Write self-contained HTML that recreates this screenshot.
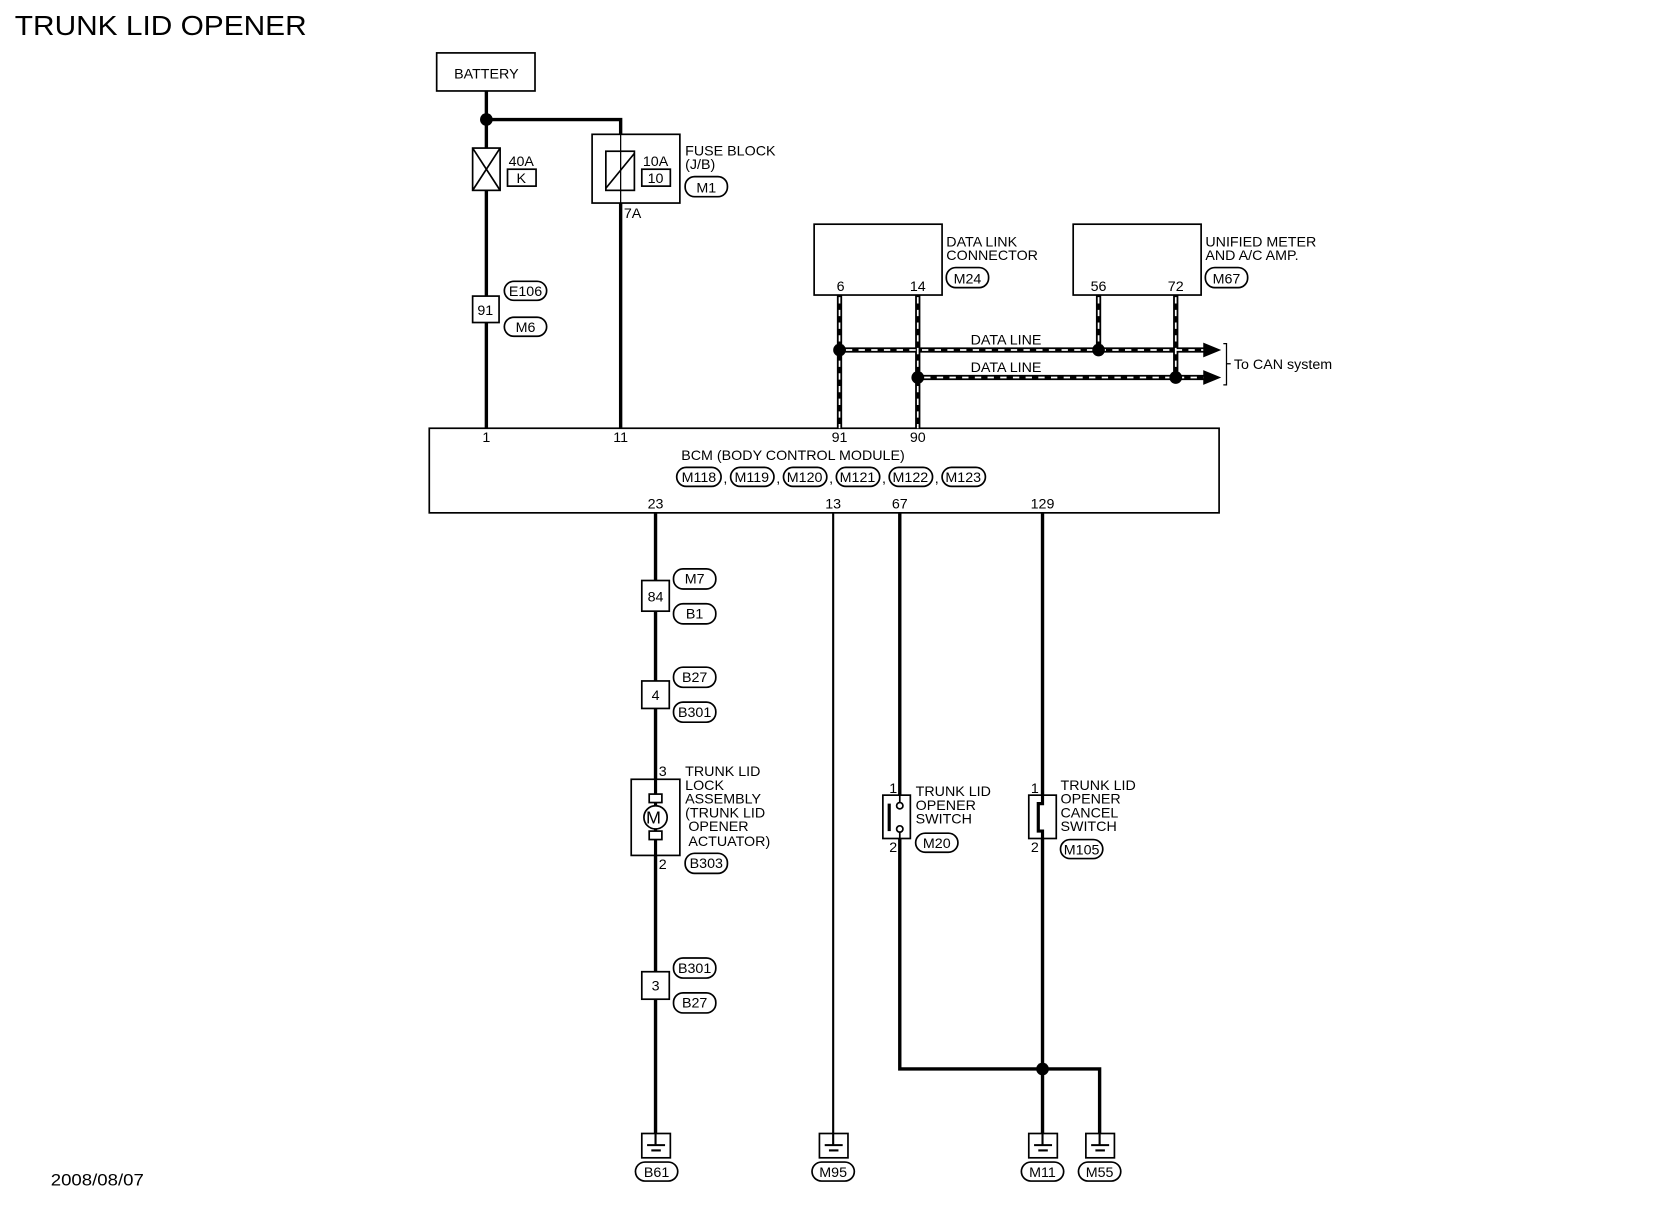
<!DOCTYPE html>
<html><head><meta charset="utf-8"><style>
html,body{margin:0;padding:0;background:#fff;}
svg{display:block;}
text{font-family:"Liberation Sans",sans-serif;font-size:13.5px;fill:#000;}
</style></head><body>
<svg width="1660" height="1216" viewBox="0 0 1570 1150" xmlns="http://www.w3.org/2000/svg">
<rect x="0" y="0" width="1570" height="1150" fill="#fff"/>
<text x="14" y="33" style="font-size:26px" textLength="276" lengthAdjust="spacingAndGlyphs">TRUNK LID OPENER</text>
<text x="48" y="1121" style="font-size:16px" textLength="88" lengthAdjust="spacingAndGlyphs">2008/08/07</text>

<g stroke="#000" fill="none" stroke-width="1.6">
<rect x="413" y="50" width="93" height="36"/>
<rect x="447" y="140" width="26" height="40"/>
<line x1="447" y1="140" x2="473" y2="180"/><line x1="473" y1="140" x2="447" y2="180"/>
<rect x="480" y="160" width="27" height="16"/>
<rect x="560" y="127" width="83" height="65"/>
<rect x="573" y="143" width="27" height="37"/>
<line x1="573" y1="178" x2="600" y2="145"/>
<rect x="607" y="160" width="27" height="16"/>
<rect x="447" y="280" width="25" height="25" fill="#fff"/>
<rect x="770" y="212" width="121" height="67"/>
<rect x="1015" y="212" width="121" height="67"/>
<rect x="406" y="405" width="747" height="80"/>
</g>

<g stroke="#000" stroke-width="3.2" fill="none">
<line x1="460" y1="86" x2="460" y2="140"/>
<line x1="460" y1="180" x2="460" y2="280"/>
<line x1="460" y1="305" x2="460" y2="405"/>
<polyline points="460,113 587,113 587,127"/>
<line x1="587" y1="192" x2="587" y2="405"/>
</g>
<line x1="587" y1="127" x2="587" y2="192" stroke="#000" stroke-width="1.2"/>
<circle cx="460" cy="113" r="6"/>

<g fill="none">
<g stroke="#000" stroke-width="5">
<line x1="794" y1="279" x2="794" y2="405"/>
<line x1="868" y1="279" x2="868" y2="405"/>
<line x1="1039" y1="279" x2="1039" y2="331"/>
<line x1="1112" y1="279" x2="1112" y2="357"/>
<line x1="794" y1="331" x2="1140" y2="331"/>
<line x1="868" y1="357" x2="1140" y2="357"/>
</g>
<g stroke="#fff" stroke-width="1.6" stroke-dasharray="6 6">
<line x1="794" y1="281" x2="794" y2="405"/>
<line x1="868" y1="281" x2="868" y2="405"/>
<line x1="1039" y1="281" x2="1039" y2="331"/>
<line x1="1112" y1="281" x2="1112" y2="357"/>
<line x1="800" y1="331" x2="1140" y2="331"/>
<line x1="874" y1="357" x2="1140" y2="357"/>
</g>
</g>
<polygon points="1138,324 1155,331 1138,338"/>
<polygon points="1138,350 1155,357 1138,364"/>
<circle cx="794" cy="331" r="6"/><circle cx="1039" cy="331" r="6"/>
<circle cx="868" cy="357" r="6"/><circle cx="1112" cy="357" r="6"/>
<polyline points="1157,325 1160,325 1160,364 1157,364" fill="none" stroke="#000" stroke-width="1.2"/>
<line x1="1160" y1="344" x2="1164" y2="344" stroke="#000" stroke-width="1.2"/>
<text x="1167" y="349">To CAN system</text>
<text x="918" y="326">DATA LINE</text>
<text x="918" y="352">DATA LINE</text>

<g stroke="#000" fill="none">
<line x1="620" y1="485" x2="620" y2="1075" stroke-width="3.2"/>
<line x1="788" y1="485" x2="788" y2="1075" stroke-width="2"/>
<line x1="851" y1="485" x2="851" y2="752" stroke-width="3.2"/>
<polyline points="851,793 851,1011 1040,1011 1040,1075" stroke-width="3.2"/>
<line x1="986" y1="485" x2="986" y2="1075" stroke-width="3.2"/>
</g>
<circle cx="986" cy="1011" r="6"/>

<g stroke="#000" fill="#fff" stroke-width="1.6">
<rect x="607" y="549" width="26" height="29"/>
<rect x="607" y="644" width="26" height="26"/>
<rect x="607" y="919" width="26" height="26"/>
<rect x="597" y="737" width="46" height="72"/>
<line x1="620" y1="737" x2="620" y2="809" stroke-width="3"/>
<rect x="614" y="751" width="12" height="8"/>
<rect x="614" y="786" width="12" height="8"/>
<circle cx="620" cy="773" r="11"/>
<rect x="835" y="752" width="26" height="41"/>
<rect x="973" y="752" width="26" height="41"/>
</g>
<text x="611" y="779" style="font-size:17px">M</text>
<g stroke="#000" fill="none" stroke-width="1.6">
<line x1="851" y1="752" x2="851" y2="759"/><circle cx="851" cy="762" r="3" fill="#fff"/>
<circle cx="851" cy="784" r="3" fill="#fff"/><line x1="851" y1="787" x2="851" y2="793"/>
<line x1="841" y1="760" x2="841" y2="786" stroke-width="3"/>
<polyline points="986,752 986,760 982,760 982,786 986,786 986,793" stroke-width="3"/>
</g>

<g stroke="#000" fill="#fff" stroke-width="1.6">
<rect x="607" y="1072" width="27" height="23"/><rect x="775" y="1072" width="27" height="23"/>
<rect x="973" y="1072" width="27" height="23"/><rect x="1027" y="1072" width="27" height="23"/>
</g>
<g stroke="#000" stroke-width="2">
<line x1="620" y1="1072" x2="620" y2="1083"/><line x1="612" y1="1083" x2="629" y2="1083"/><line x1="616" y1="1088" x2="625" y2="1088"/>
<line x1="788" y1="1072" x2="788" y2="1083"/><line x1="780" y1="1083" x2="797" y2="1083"/><line x1="784" y1="1088" x2="793" y2="1088"/>
<line x1="986" y1="1072" x2="986" y2="1083"/><line x1="978" y1="1083" x2="995" y2="1083"/><line x1="982" y1="1088" x2="991" y2="1088"/>
<line x1="1040" y1="1072" x2="1040" y2="1083"/><line x1="1032" y1="1083" x2="1049" y2="1083"/><line x1="1036" y1="1088" x2="1045" y2="1088"/>
</g>

<g stroke="#000" fill="#fff" stroke-width="1.6">
<rect x="648" y="167" width="40" height="19" rx="9"/>
<rect x="477" y="266" width="40" height="18" rx="9"/>
<rect x="477" y="300" width="40" height="18" rx="9"/>
<rect x="895" y="253" width="40" height="19" rx="9"/>
<rect x="1140" y="253" width="40" height="19" rx="9"/>
<rect x="640" y="442" width="42" height="18" rx="9"/>
<rect x="691" y="442" width="41" height="18" rx="9"/>
<rect x="741" y="442" width="41" height="18" rx="9"/>
<rect x="791" y="442" width="41" height="18" rx="9"/>
<rect x="841" y="442" width="41" height="18" rx="9"/>
<rect x="891" y="442" width="41" height="18" rx="9"/>
<rect x="637" y="538" width="40" height="19" rx="9"/>
<rect x="637" y="571" width="40" height="19" rx="9"/>
<rect x="637" y="631" width="40" height="19" rx="9"/>
<rect x="637" y="664" width="40" height="19" rx="9"/>
<rect x="648" y="807" width="40" height="19" rx="9"/>
<rect x="637" y="906" width="40" height="19" rx="9"/>
<rect x="637" y="939" width="40" height="19" rx="9"/>
<rect x="866" y="788" width="40" height="18" rx="9"/>
<rect x="1003" y="794" width="40" height="18" rx="9"/>
<rect x="601" y="1099" width="40" height="18" rx="9"/>
<rect x="768" y="1099" width="40" height="18" rx="9"/>
<rect x="966" y="1099" width="40" height="18" rx="9"/>
<rect x="1020" y="1099" width="40" height="18" rx="9"/>
</g>
<g text-anchor="middle">
<text x="460" y="74">BATTERY</text>
<text x="493" y="173">K</text>
<text x="620" y="173">10</text>
<text x="668" y="182">M1</text>
<text x="459" y="298">91</text>
<text x="497" y="280">E106</text>
<text x="497" y="314">M6</text>
<text x="915" y="268">M24</text>
<text x="1160" y="268">M67</text>
<text x="795" y="275">6</text><text x="868" y="275">14</text>
<text x="1039" y="275">56</text><text x="1112" y="275">72</text>
<text x="460" y="418">1</text><text x="587" y="418">11</text>
<text x="794" y="418">91</text><text x="868" y="418">90</text>
<text x="750" y="435">BCM (BODY CONTROL MODULE)</text>
<text x="661" y="456">M118</text><text x="711" y="456">M119</text><text x="761" y="456">M120</text>
<text x="811" y="456">M121</text><text x="861" y="456">M122</text><text x="911" y="456">M123</text>
<text x="686" y="457">,</text><text x="736" y="457">,</text><text x="786" y="457">,</text><text x="836" y="457">,</text><text x="886" y="457">,</text>
<text x="620" y="481">23</text><text x="788" y="481">13</text><text x="851" y="481">67</text><text x="986" y="481">129</text>
<text x="620" y="569">84</text><text x="657" y="552">M7</text><text x="657" y="585">B1</text>
<text x="620" y="662">4</text><text x="657" y="645">B27</text><text x="657" y="678">B301</text>
<text x="668" y="821">B303</text>
<text x="620" y="937">3</text><text x="657" y="920">B301</text><text x="657" y="953">B27</text>
<text x="886" y="802">M20</text><text x="1023" y="808">M105</text>
<text x="621" y="1113">B61</text><text x="788" y="1113">M95</text><text x="986" y="1113">M11</text><text x="1040" y="1113">M55</text>
</g>
<text x="481" y="157">40A</text>
<text x="608" y="157">10A</text>
<text x="648" y="147">FUSE BLOCK</text><text x="648" y="160">(J/B)</text>
<text x="590" y="206">7A</text>
<text x="895" y="233">DATA LINK</text><text x="895" y="246">CONNECTOR</text>
<text x="1140" y="233">UNIFIED METER</text><text x="1140" y="246">AND A/C AMP.</text>
<text x="623" y="734">3</text><text x="623" y="822">2</text>
<text x="648" y="734">TRUNK LID</text><text x="648" y="747">LOCK</text><text x="648" y="760">ASSEMBLY</text>
<text x="648" y="773">(TRUNK LID</text><text x="651" y="786">OPENER</text><text x="651" y="800">ACTUATOR)</text>
<text x="841" y="750">1</text><text x="841" y="806">2</text>
<text x="866" y="753">TRUNK LID</text><text x="866" y="766">OPENER</text><text x="866" y="779">SWITCH</text>
<text x="975" y="750">1</text><text x="975" y="806">2</text>
<text x="1003" y="747">TRUNK LID</text><text x="1003" y="760">OPENER</text><text x="1003" y="773">CANCEL</text><text x="1003" y="786">SWITCH</text>
</svg>
</body></html>
